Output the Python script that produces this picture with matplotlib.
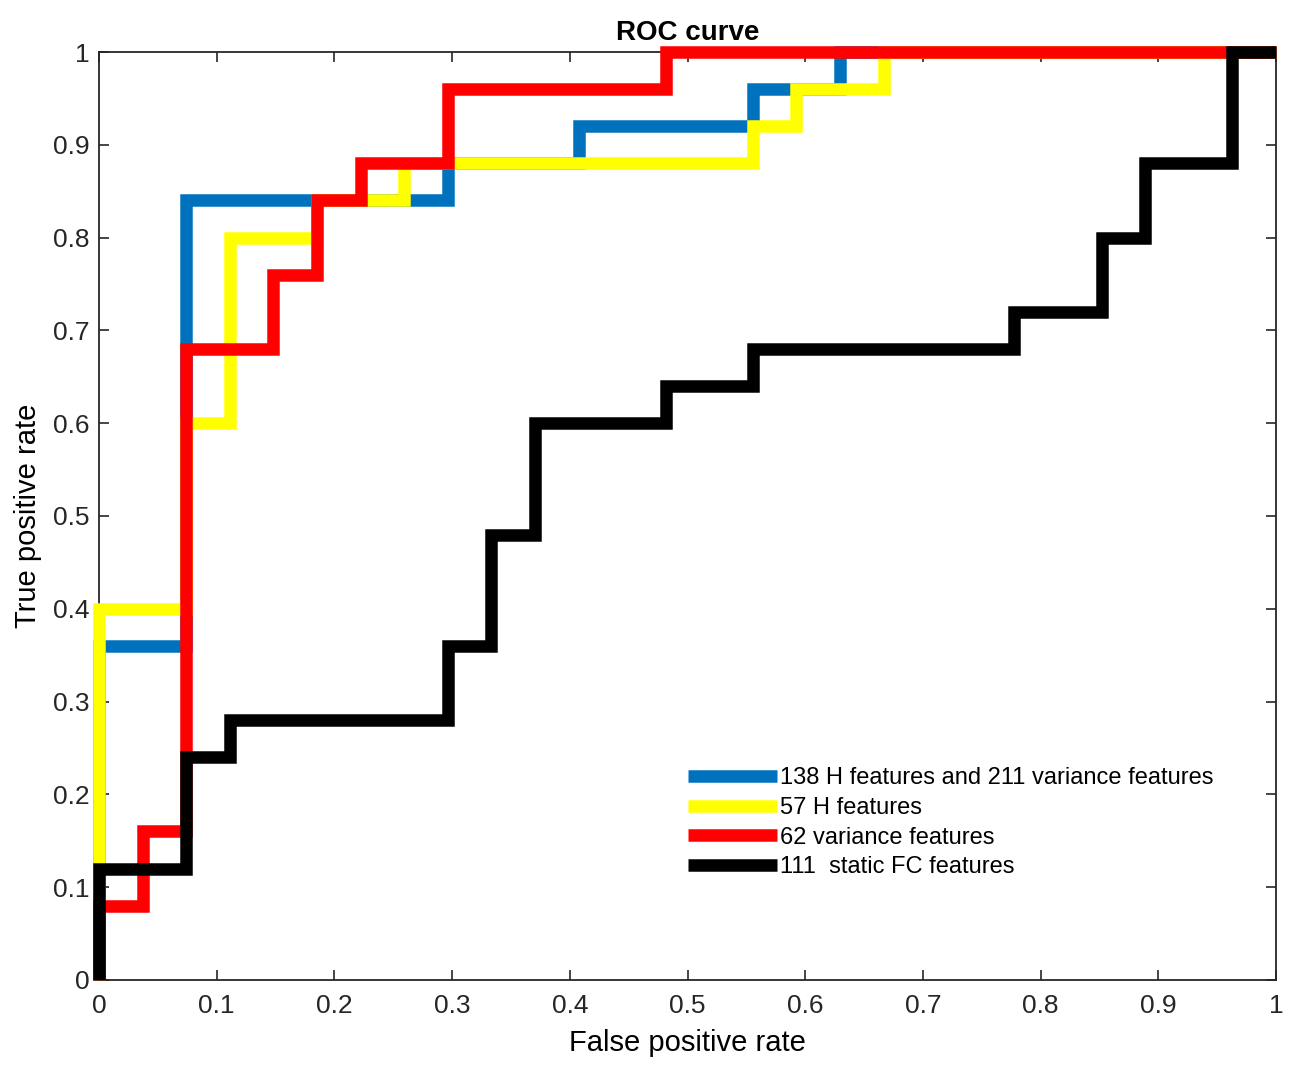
import matplotlib.pyplot as plt
import numpy as np

plt.rcParams['font.family'] = ['Liberation Sans', 'DejaVu Sans']

# ROC points (27 negatives, 25 positives)
blue_fpr = np.array([0, 0, 2, 2, 8, 8, 11, 11, 15, 15, 17, 17, 27]) / 27
blue_tpr = np.array([0, 0.36, 0.36, 0.84, 0.84, 0.88, 0.88, 0.92, 0.92, 0.96, 0.96, 1, 1])

yellow_fpr = np.array([0, 0, 2, 2, 3, 3, 5, 5, 7, 7, 15, 15, 16, 16, 18, 18, 27]) / 27
yellow_tpr = np.array([0, 0.4, 0.4, 0.6, 0.6, 0.8, 0.8, 0.84, 0.84, 0.88, 0.88, 0.92, 0.92, 0.96, 0.96, 1, 1])

red_fpr = np.array([0, 0, 1, 1, 2, 2, 4, 4, 5, 5, 6, 6, 8, 8, 13, 13, 26, 27]) / 27
red_tpr = np.array([0, 0.08, 0.08, 0.16, 0.16, 0.68, 0.68, 0.76, 0.76, 0.84, 0.84, 0.88, 0.88, 0.96, 0.96, 1, 1, 1])

black_fpr = np.array([0, 0, 2, 2, 3, 3, 8, 8, 9, 9, 10, 10, 13, 13, 15, 15,
                      21, 21, 23, 23, 24, 24, 26, 26, 27]) / 27
black_tpr = np.array([0, 0.12, 0.12, 0.24, 0.24, 0.28, 0.28, 0.36, 0.36, 0.48, 0.48, 0.6, 0.6,
                      0.64, 0.64, 0.68, 0.68, 0.72, 0.72, 0.8, 0.8, 0.88, 0.88, 1, 1])

labels = ['138 H features and 211 variance features', '57 H features',
          '62 variance features', '111  static FC features']
colors = ['#0072BD', '#FFFF00', '#FF0000', '#000000']

ticks = np.linspace(0, 1, 11)
tick_labels = ['0', '0.1', '0.2', '0.3', '0.4', '0.5', '0.6', '0.7', '0.8', '0.9', '1']

fig = plt.figure(figsize=(13, 10.77), dpi=100)
ax = fig.add_axes([0.0762, 0.0901, 0.9053, 0.8616])

curves = [(blue_fpr, blue_tpr), (yellow_fpr, yellow_tpr), (red_fpr, red_tpr), (black_fpr, black_tpr)]
for (x, y), c, lab in zip(curves, colors, labels):
    ax.plot(x, y, color=c, lw=9, label=lab, clip_on=False, zorder=3,
            solid_joinstyle='miter', solid_capstyle='butt')

ax.set_xlim(0, 1)
ax.set_ylim(0, 1)
ax.set_xticks(ticks)
ax.set_xticklabels(tick_labels)
ax.set_yticks(ticks)
ax.set_yticklabels(tick_labels)
ax.tick_params(direction='in', length=7, width=1.2, labelsize=19, top=True, right=True,
               colors='#262626')
ax.tick_params(axis='x', pad=10)
ax.tick_params(axis='y', pad=7)
for s in ax.spines.values():
    s.set_linewidth(1.3)
    s.set_color('#262626')

ax.set_xlabel('False positive rate', fontsize=21, labelpad=8)
ax.set_ylabel('True positive rate', fontsize=21, labelpad=8)
ax.set_title('ROC curve', fontsize=20, fontweight='bold', pad=9)

ax.legend(loc='upper left', bbox_to_anchor=(0.5, 0.229), frameon=False, fontsize=17,
          handlelength=3.8, handletextpad=0.1, labelspacing=0.32,
          borderpad=0, borderaxespad=0)

fig.savefig('out.png', dpi=100)
